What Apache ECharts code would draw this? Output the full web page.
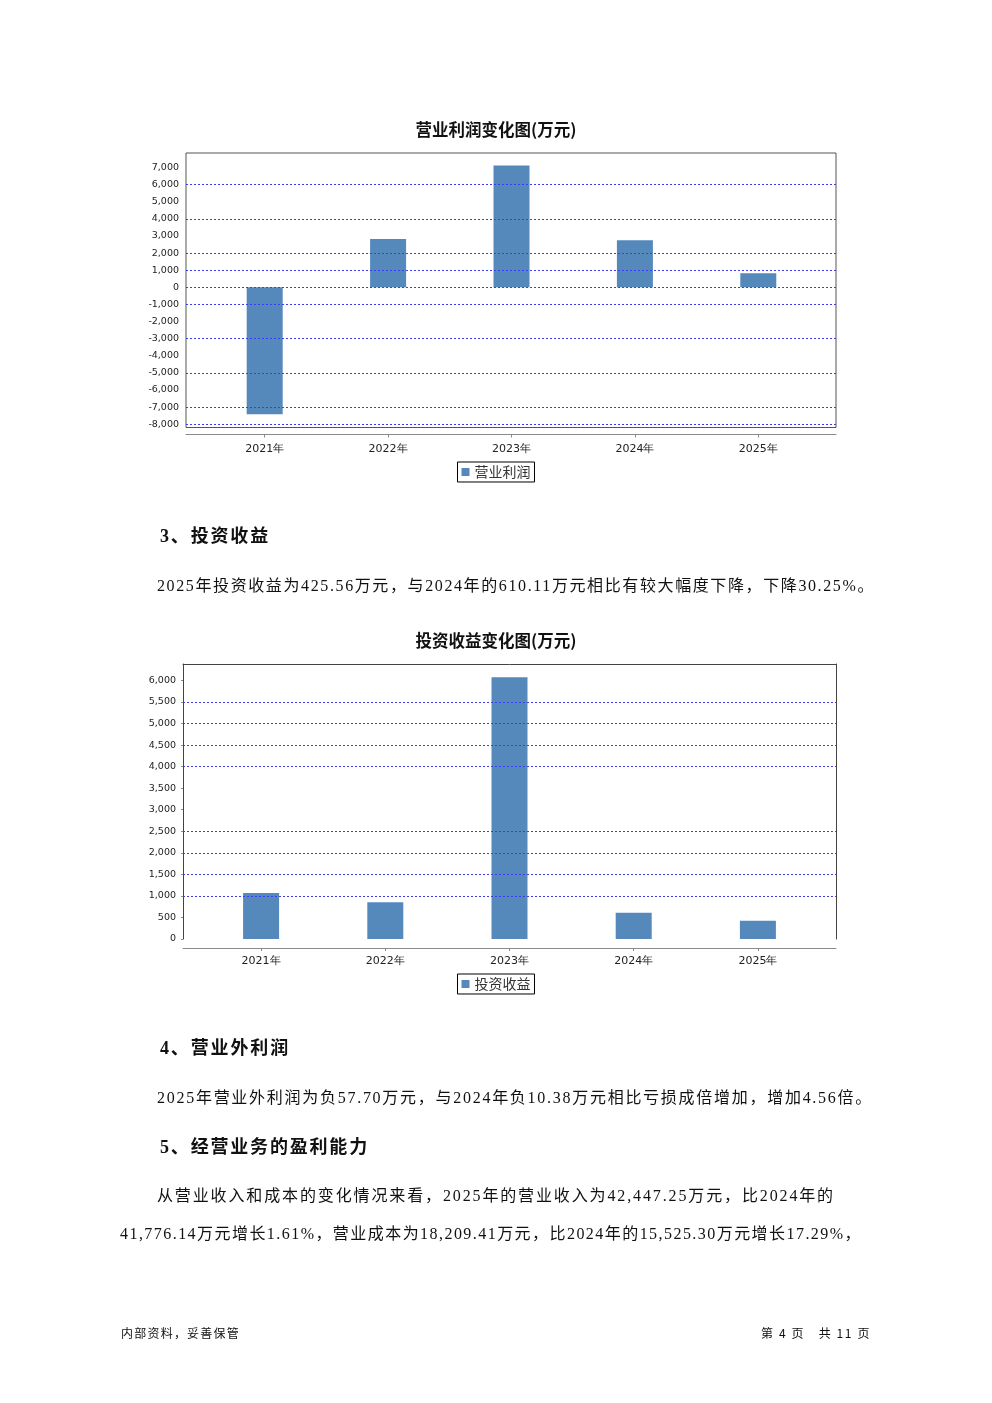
<!DOCTYPE html>
<html>
<head>
<meta charset="utf-8">
<script src="https://cdn.jsdelivr.net/npm/echarts@6/dist/echarts.min.js"></script>
<style>
  html, body { margin:0; padding:0; background:#fff; }
  #page { position:relative; width:992px; height:1403px; overflow:hidden; background:#fff; }
  #c { position:absolute; left:0; top:0; width:992px; height:1403px; }
  .t { position:absolute; white-space:nowrap; color:#111; display:inline-block; }
  .body { font-family:'Liberation Serif','Noto Sans CJK SC',serif; font-size:16px; line-height:20px; }
  .head { font-family:'Liberation Serif','Noto Sans CJK SC',serif; font-size:18px; line-height:22px; font-weight:bold; }
  .foot { font-family:'Noto Sans CJK SC',sans-serif; font-size:12px; line-height:16px; }
</style>
</head>
<body>
<div id="page">
  <div id="c"></div>
  <div class="t head" data-w="110" style="left:160px;top:525px;">3、投资收益</div>
  <div class="t body" data-w="718" style="left:157px;top:576px;">2025年投资收益为425.56万元，与2024年的610.11万元相比有较大幅度下降，下降30.25%。</div>
  <div class="t head" data-w="130" style="left:160px;top:1037px;">4、营业外利润</div>
  <div class="t body" data-w="716" style="left:157px;top:1088px;">2025年营业外利润为负57.70万元，与2024年负10.38万元相比亏损成倍增加，增加4.56倍。</div>
  <div class="t head" data-w="209" style="left:160px;top:1136px;">5、经营业务的盈利能力</div>
  <div class="t body" data-w="678" style="left:157px;top:1186px;">从营业收入和成本的变化情况来看，2025年的营业收入为42,447.25万元，比2024年的</div>
  <div class="t body" data-w="742" style="left:120px;top:1224px;">41,776.14万元增长1.61%，营业成本为18,209.41万元，比2024年的15,525.30万元增长17.29%，</div>
  <div class="t foot" data-w="119" style="left:121px;top:1325px;">内部资料，妥善保管</div>
  <div class="t foot" data-w="110" style="left:761px;top:1325px;">第 4 页　共 11 页</div>
</div>
<script>
// ---- data ----
const categories = ['2021年', '2022年', '2023年', '2024年', '2025年'];
const operatingProfit = [-7410, 2820, 7120, 2745, 820];
const investmentIncome = [1067, 851, 6070, 610.11, 425.56];
const profitTicks = [-8000, -7000, -6000, -5000, -4000, -3000, -2000, -1000, 0, 1000, 2000, 3000, 4000, 5000, 6000, 7000];
const profitGridLines = [6000, 4000, 2000, 1000, 0, -1000, -3000, -5000, -7000, -8000];
const investTicks = [0, 500, 1000, 1500, 2000, 2500, 3000, 3500, 4000, 4500, 5000, 5500, 6000];
const investGridLines = [5500, 5000, 4500, 4000, 2500, 2000, 1500, 1000];

// ---- fit text widths ----
document.querySelectorAll('.t[data-w]').forEach(el => {
  const target = parseFloat(el.dataset.w);
  const w = el.getBoundingClientRect().width;
  const n = [...el.textContent].length;
  el.style.letterSpacing = ((target - w) / n) + 'px';
});

const fmt = v => Number(v).toLocaleString('en-US');
const barColor = '#5589bc';
const gridLineStyle = { color: '#3c3cf0', type: [2, 2], width: 1 };
const axisFont = 'DejaVu Sans';

const chart = echarts.init(document.getElementById('c'), null, { renderer: 'canvas', width: 992, height: 1403 });

const p1 = { min: -8190, max: 7850 };
const p2 = { min: 0, max: 6380 };

chart.setOption({
  animation: false,
  title: [
    { text: '营业利润变化图(万元)', left: 'center', top: 121, padding: 0,
      textStyle: { fontSize: 16.5, fontWeight: 'bold', color: '#111', fontFamily: 'Noto Sans CJK SC' } },
    { text: '投资收益变化图(万元)', left: 'center', top: 632, padding: 0,
      textStyle: { fontSize: 16.5, fontWeight: 'bold', color: '#111', fontFamily: 'Noto Sans CJK SC' } }
  ],
  legend: [
    { data: ['营业利润'], left: 'center', top: 462, icon: 'rect', itemWidth: 8, itemHeight: 8,
      borderColor: '#000', borderWidth: 1, padding: [3, 4], selectedMode: false,
      textStyle: { fontSize: 14, color: '#333', fontFamily: 'Noto Sans CJK SC' } },
    { data: ['投资收益'], left: 'center', top: 974, icon: 'rect', itemWidth: 8, itemHeight: 8,
      borderColor: '#000', borderWidth: 1, padding: [3, 4], selectedMode: false,
      textStyle: { fontSize: 14, color: '#333', fontFamily: 'Noto Sans CJK SC' } }
  ],
  grid: [
    { left: 186, top: 153, width: 650, height: 274.5, show: true, borderColor: '#555', borderWidth: 1 },
    { left: 203, top: 153, width: 617, height: 274.5 },
    { left: 183, top: 664, width: 653, height: 275 },
    { left: 199, top: 664, width: 621, height: 275 }
  ],
  xAxis: [
    { gridIndex: 0, type: 'value', min: 0, max: 1, offset: 7,
      axisLine: { show: true, onZero: false, lineStyle: { color: '#8a8a8a' } },
      axisTick: { show: false }, axisLabel: { show: false }, splitLine: { show: false } },
    { gridIndex: 1, type: 'category', data: categories, offset: 7,
      axisLine: { show: false, onZero: false },
      axisTick: { show: true, alignWithLabel: true, length: 3, lineStyle: { color: '#8a8a8a' } },
      axisLabel: { margin: 9, fontSize: 11, color: '#222', fontFamily: axisFont } },
    { gridIndex: 2, type: 'value', min: 0, max: 1, offset: 9,
      axisLine: { show: true, onZero: false, lineStyle: { color: '#8a8a8a' } },
      axisTick: { show: false }, axisLabel: { show: false }, splitLine: { show: false } },
    { gridIndex: 2, type: 'value', min: 0, max: 1, position: 'top',
      axisLine: { show: true, onZero: false, lineStyle: { color: '#444' } },
      axisTick: { show: false }, axisLabel: { show: false }, splitLine: { show: false } },
    { gridIndex: 3, type: 'category', data: categories, offset: 9,
      axisLine: { show: false, onZero: false },
      axisTick: { show: true, alignWithLabel: true, length: 3, lineStyle: { color: '#8a8a8a' } },
      axisLabel: { margin: 8, fontSize: 11, color: '#222', fontFamily: axisFont } }
  ],
  yAxis: [
    { gridIndex: 0, type: 'value', min: p1.min, max: p1.max,
      axisLine: { show: false, onZero: false }, axisTick: { show: false }, splitLine: { show: false },
      axisLabel: { customValues: profitTicks, formatter: fmt, margin: 7, fontSize: 9.5, color: '#222', fontFamily: axisFont } },
    { gridIndex: 1, type: 'value', min: p1.min, max: p1.max, show: false },
    { gridIndex: 2, type: 'value', min: p2.min, max: p2.max,
      axisLine: { show: true, onZero: false, lineStyle: { color: '#444' } },
      axisTick: { show: true, customValues: investTicks, length: 2, lineStyle: { color: '#8a8a8a' } },
      splitLine: { show: false },
      axisLabel: { customValues: investTicks, formatter: fmt, margin: 7, fontSize: 9.5, color: '#222', fontFamily: axisFont } },
    { gridIndex: 2, type: 'value', min: p2.min, max: p2.max, position: 'right',
      axisLine: { show: true, onZero: false, lineStyle: { color: '#444' } },
      axisTick: { show: false }, axisLabel: { show: false }, splitLine: { show: false } },
    { gridIndex: 3, type: 'value', min: p2.min, max: p2.max, show: false }
  ],
  series: [
    { type: 'line', name: 'grid1', xAxisIndex: 0, yAxisIndex: 0, data: [], z: 1, silent: true,
      markLine: { silent: true, symbol: ['none', 'none'], label: { show: false }, lineStyle: gridLineStyle,
        data: profitGridLines.map(v => ({ yAxis: v })) } },
    { type: 'bar', name: '营业利润', xAxisIndex: 1, yAxisIndex: 1, data: operatingProfit, barWidth: 36, z: 3,
      itemStyle: { color: barColor } },
    { type: 'line', name: 'grid2', xAxisIndex: 2, yAxisIndex: 2, data: [], z: 1, silent: true,
      markLine: { silent: true, symbol: ['none', 'none'], label: { show: false }, lineStyle: gridLineStyle,
        data: investGridLines.map(v => ({ yAxis: v })) } },
    { type: 'bar', name: '投资收益', xAxisIndex: 4, yAxisIndex: 4, data: investmentIncome, barWidth: 36, z: 3,
      clip: false, itemStyle: { color: barColor } }
  ]
});
</script>
</body>
</html>
